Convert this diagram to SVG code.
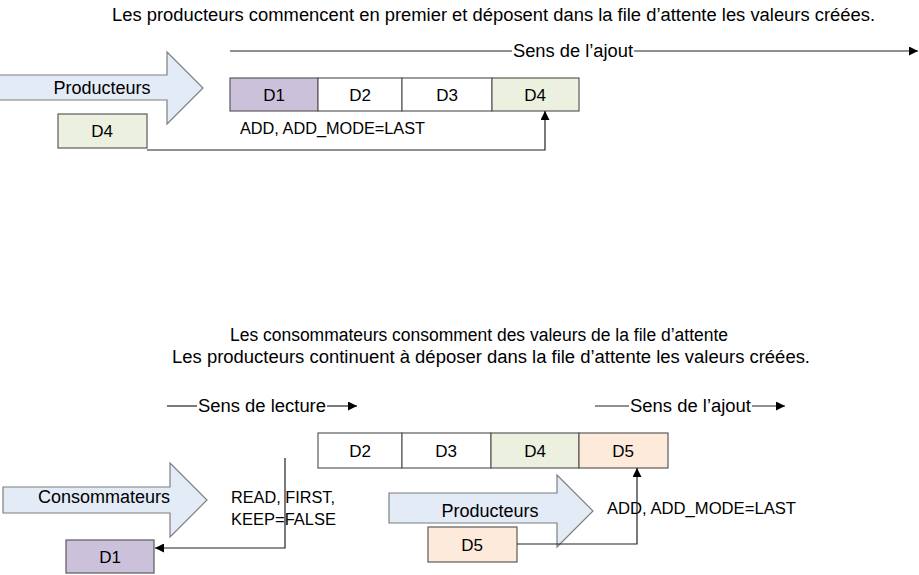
<svg xmlns="http://www.w3.org/2000/svg" width="919" height="575" viewBox="0 0 919 575">
<defs>
<style>
text{font-family:"Liberation Sans",Arial,sans-serif;fill:#000}
.t18{font-size:18px}
.t17{font-size:17px;text-anchor:middle}
.t16{font-size:16px}
.box{stroke:#5a5a5a;stroke-width:1.2}
.arr{fill:#E3EBF7;stroke:#7f7f7f;stroke-width:1.2}
.ln{fill:none;stroke:#222;stroke-width:1.2}
</style>
<marker id="ah" viewBox="0 0 10 10" refX="10" refY="5" markerWidth="12" markerHeight="9" markerUnits="userSpaceOnUse" orient="auto">
<path d="M0,0 L10,5 L0,10 z" fill="#000"/>
</marker>
</defs>
<rect width="919" height="575" fill="#fff"/>

<text class="t18" x="112" y="21" textLength="763" lengthAdjust="spacingAndGlyphs">Les producteurs commencent en premier et déposent dans la file d’attente les valeurs créées.</text>
<text class="t18" x="230" y="341" textLength="498" lengthAdjust="spacingAndGlyphs">Les consommateurs consomment des valeurs de la file d’attente</text>
<text class="t18" x="172" y="363" textLength="638" lengthAdjust="spacingAndGlyphs">Les producteurs continuent à déposer dans la file d’attente les valeurs créées.</text>

<g id="top-producteurs">
<path class="arr" d="M-1,75 L167,75 L167,52 L203,88 L167,124 L167,100 L-1,100 Z"/>
<text class="t18" x="102" y="94" text-anchor="middle">Producteurs</text>
</g>
<g id="top-d4-src">
<rect class="box" x="58" y="114" width="89" height="34" fill="#EBF1DE"/>
<text class="t17" x="102" y="137">D4</text>
</g>
<g id="top-queue">
<rect class="box" x="230" y="78" width="88" height="33" fill="#CCC1DA"/>
<text class="t17" x="274" y="101">D1</text>
<rect class="box" x="318" y="78" width="84" height="33" fill="#fff"/>
<text class="t17" x="360" y="101">D2</text>
<rect class="box" x="402" y="78" width="90" height="33" fill="#fff"/>
<text class="t17" x="447" y="101">D3</text>
<rect class="box" x="492" y="78" width="87" height="33" fill="#EBF1DE"/>
<text class="t17" x="535" y="101">D4</text>
</g>
<text class="t16" x="240" y="134" textLength="185" lengthAdjust="spacingAndGlyphs">ADD, ADD_MODE=LAST</text>
<text class="t18" x="513" y="57" textLength="120" lengthAdjust="spacingAndGlyphs">Sens de l’ajout</text>

<g id="bottom-consommateurs">
<path class="arr" d="M3,487 L170,487 L170,463 L207,500 L170,537 L170,513 L3,513 Z"/>
<text class="t18" x="104" y="503" text-anchor="middle">Consommateurs</text>
</g>
<g id="bottom-d1">
<rect class="box" x="66" y="540" width="88" height="33" fill="#CCC1DA"/>
<text class="t17" x="110" y="563">D1</text>
</g>
<text class="t16" x="231" y="503" textLength="104" lengthAdjust="spacingAndGlyphs">READ, FIRST,</text>
<text class="t16" x="231" y="525" textLength="105" lengthAdjust="spacingAndGlyphs">KEEP=FALSE</text>
<text class="t18" x="198" y="412" textLength="128" lengthAdjust="spacingAndGlyphs">Sens de lecture</text>

<g id="bottom-queue">
<rect class="box" x="318" y="433" width="84" height="35" fill="#fff"/>
<text class="t17" x="360" y="457">D2</text>
<rect class="box" x="402" y="433" width="89" height="35" fill="#fff"/>
<text class="t17" x="446" y="457">D3</text>
<rect class="box" x="491" y="433" width="88" height="35" fill="#EBF1DE"/>
<text class="t17" x="535" y="457">D4</text>
<rect class="box" x="579" y="433" width="89" height="35" fill="#FDEADA"/>
<text class="t17" x="623" y="457">D5</text>
</g>
<g id="bottom-producteurs">
<path class="arr" d="M389,493 L557,493 L557,475 L593,511 L557,547 L557,523 L389,523 Z"/>
<text class="t18" x="490" y="517" text-anchor="middle">Producteurs</text>
</g>
<g id="bottom-d5-src">
<rect class="box" x="428" y="527" width="89" height="35" fill="#FDEADA"/>
<text class="t17" x="472" y="551">D5</text>
</g>
<text class="t16" x="607" y="514" textLength="189" lengthAdjust="spacingAndGlyphs">ADD, ADD_MODE=LAST</text>
<text class="t18" x="630" y="412" textLength="121" lengthAdjust="spacingAndGlyphs">Sens de l’ajout</text>

<g id="connectors">
<line class="ln" x1="230" y1="51" x2="512" y2="51"/>
<line class="ln" x1="634" y1="51" x2="918" y2="51" marker-end="url(#ah)"/>
<polyline class="ln" points="147,150 545,150 545,111" marker-end="url(#ah)"/>
<line class="ln" x1="167" y1="406" x2="197" y2="406"/>
<line class="ln" x1="327" y1="406" x2="357" y2="406" marker-end="url(#ah)"/>
<line class="ln" x1="595" y1="406" x2="629" y2="406"/>
<line class="ln" x1="752" y1="406" x2="785" y2="406" marker-end="url(#ah)"/>
<polyline class="ln" points="285,458 285,548 155,548" marker-end="url(#ah)"/>
<polyline class="ln" points="517,544 637,544 637,468" marker-end="url(#ah)"/>
</g>
</svg>
